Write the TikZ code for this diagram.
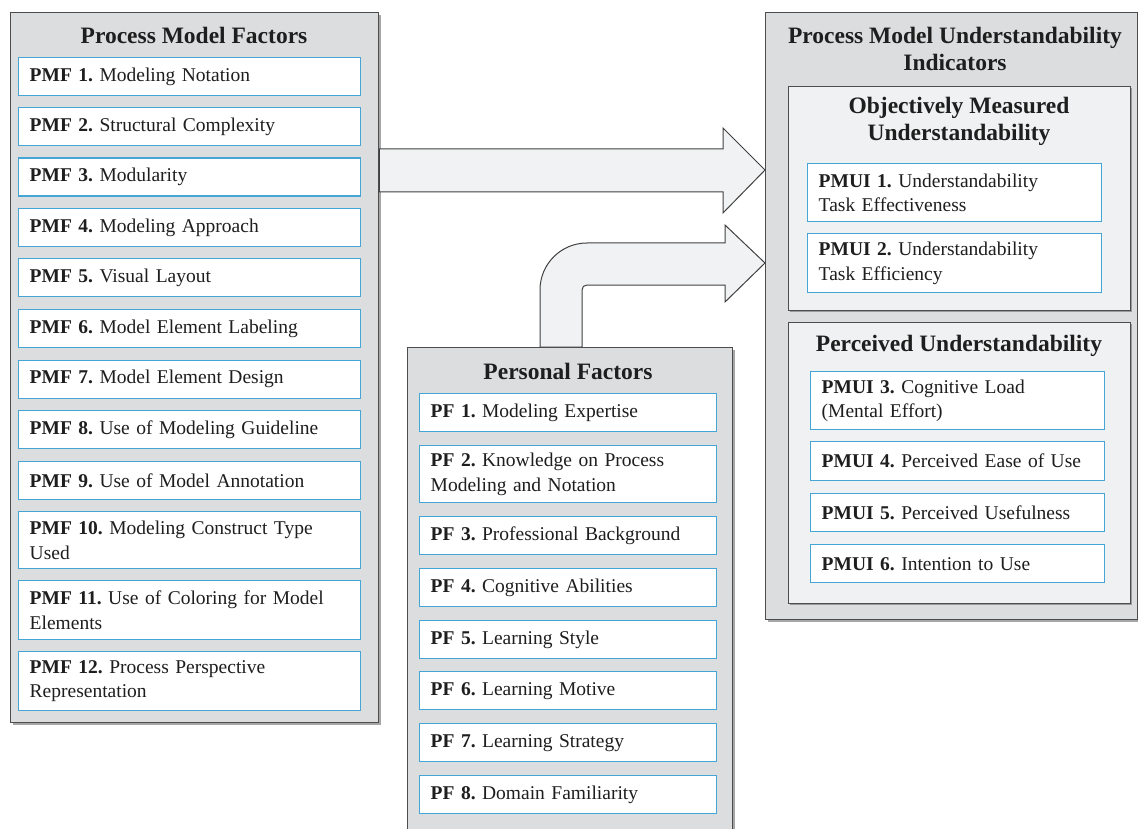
\documentclass[tikz,border=0pt]{standalone}
\usepackage{fontspec}
\setmainfont{Liberation Serif}
\usetikzlibrary{shadows}
\definecolor{outerfill}{HTML}{DCDDDF}
\definecolor{innerfill}{HTML}{F0F1F2}
\definecolor{itemblue}{HTML}{45A6D6}
\definecolor{edgegray}{HTML}{4D4D4D}
\definecolor{txt}{HTML}{1E1E1E}
\definecolor{arrowfill}{HTML}{F1F2F3}
\frenchspacing
\begin{document}
\begin{tikzpicture}[x=1pt,y=-1pt,
  outerbox/.style={draw=edgegray, line width=1.3pt, fill=outerfill, anchor=north west, inner sep=0pt,
    drop shadow={shadow xshift=2pt,shadow yshift=-2pt,fill=black,opacity=0.35}},
  innerbox/.style={draw=edgegray, line width=1.2pt, fill=innerfill, anchor=north west, inner sep=0pt,
    drop shadow={shadow xshift=1.5pt,shadow yshift=-1.5pt,fill=black,opacity=0.3}},
  titletext/.style={font=\fontsize{23.5}{27}\selectfont\bfseries, text=txt, align=center, inner sep=0pt},
  item/.style={draw=itemblue, line width=1.4pt, fill=white, anchor=north west, inner xsep=11pt, inner ysep=0pt,
    align=left, text=txt, font=\fontsize{19.5}{24.5}\selectfont},
  pmfitem/.style={item, text width=320pt},
  pfitem/.style={item, text width=275pt},
  uiitem/.style={item, text width=272pt},
  blockarrow/.style={draw=black!75, fill=arrowfill, line width=1pt, line join=miter}
]
\path[use as bounding box] (0,0) rectangle (1138,829);
\clip (0,0) rectangle (1138,829);

% ---------- Process Model Factors ----------
\node[outerbox, minimum width=368pt, minimum height=710pt] (pmfbox) at (10,12) {};
\node[titletext] (pmftitle) at (194,35) {Process Model Factors};
\node[pmfitem, minimum height=38pt] (pmf1) at (18,57) {\textbf{PMF 1.} Modeling Notation};
\node[pmfitem, minimum height=38pt] (pmf2) at (18,107) {\textbf{PMF 2.} Structural Complexity};
\node[pmfitem, minimum height=38pt] (pmf3) at (18,157.5) {\textbf{PMF 3.} Modularity};
\node[pmfitem, minimum height=38pt] (pmf4) at (18,208) {\textbf{PMF 4.} Modeling Approach};
\node[pmfitem, minimum height=38pt] (pmf5) at (18,258) {\textbf{PMF 5.} Visual Layout};
\node[pmfitem, minimum height=38pt] (pmf6) at (18,309) {\textbf{PMF 6.} Model Element Labeling};
\node[pmfitem, minimum height=38pt] (pmf7) at (18,359.5) {\textbf{PMF 7.} Model Element Design};
\node[pmfitem, minimum height=38pt] (pmf8) at (18,410) {\textbf{PMF 8.} Use of Modeling Guideline};
\node[pmfitem, minimum height=38pt] (pmf9) at (18,461) {\textbf{PMF 9.} Use of Model Annotation};
\node[pmfitem, minimum height=57pt] (pmf10) at (18,511) {\textbf{PMF 10.} Modeling Construct Type\\Used};
\node[pmfitem, minimum height=59pt] (pmf11) at (18,580) {\textbf{PMF 11.} Use of Coloring for Model\\Elements};
\node[pmfitem, minimum height=59pt] (pmf12) at (18,651) {\textbf{PMF 12.} Process Perspective\\Representation};

% ---------- Personal Factors ----------
\node[outerbox, minimum width=325pt, minimum height=500pt] (pfbox) at (407,347) {};
\node[titletext] (pftitle) at (568,371) {Personal Factors};
\node[pfitem, minimum height=38pt] (pf1) at (419,393) {\textbf{PF 1.} Modeling Expertise};
\node[pfitem, minimum height=57pt] (pf2) at (419,445) {\textbf{PF 2.} Knowledge on Process\\Modeling and Notation};
\node[pfitem, minimum height=38pt] (pf3) at (419,516) {\textbf{PF 3.} Professional Background};
\node[pfitem, minimum height=38pt] (pf4) at (419,568) {\textbf{PF 4.} Cognitive Abilities};
\node[pfitem, minimum height=38pt] (pf5) at (419,620) {\textbf{PF 5.} Learning Style};
\node[pfitem, minimum height=38pt] (pf6) at (419,671) {\textbf{PF 6.} Learning Motive};
\node[pfitem, minimum height=38pt] (pf7) at (419,723) {\textbf{PF 7.} Learning Strategy};
\node[pfitem, minimum height=38pt] (pf8) at (419,775) {\textbf{PF 8.} Domain Familiarity};

% ---------- Understandability Indicators ----------
\node[outerbox, minimum width=372pt, minimum height=607pt] (pmuibox) at (765,12) {};
\node[titletext] (pmuititle) at (955,48.5) {Process Model Understandability\\Indicators};
\node[innerbox, minimum width=342pt, minimum height=224pt] (objbox) at (788,86) {};
\node[titletext] (objtitle) at (959,121.5) {Objectively Measured\\Understandability};
\node[uiitem, minimum height=58pt] (ui1) at (807,163) {\textbf{PMUI 1.} Understandability\\Task Effectiveness};
\node[uiitem, minimum height=59pt] (ui2) at (807,233) {\textbf{PMUI 2.} Understandability\\Task Efficiency};
\node[innerbox, minimum width=342pt, minimum height=281pt] (perbox) at (788,322) {};
\node[titletext] (pertitle) at (959,346) {Perceived Understandability};
\node[uiitem, minimum height=58pt] (ui3) at (810,371) {\textbf{PMUI 3.} Cognitive Load\\(Mental Effort)};
\node[uiitem, minimum height=39pt] (ui4) at (810,441) {\textbf{PMUI 4.} Perceived Ease of Use};
\node[uiitem, minimum height=38pt] (ui5) at (810,493) {\textbf{PMUI 5.} Perceived Usefulness};
\node[uiitem, minimum height=38pt] (ui6) at (810,544) {\textbf{PMUI 6.} Intention to Use};

% ---------- Block arrows ----------
\draw[blockarrow] (pmfbox.east |- 0,149) -- (723,149) -- (723,128) -- (pmuibox.west |- 0,170)
  -- (723,213) -- (723,192) -- (pmfbox.east |- 0,192) -- cycle;
\draw[blockarrow] (pfbox.north -| 540,0) -- (540,290) .. controls (540,264) and (561,243) .. (587,243)
  -- (725,243) -- (725,225) -- (pmuibox.west |- 0,263) -- (725,302) -- (725,285) -- (587,285)
  .. controls (584,285) and (582,287) .. (582,290) -- (pfbox.north -| 582,0) -- cycle;
\end{tikzpicture}
\end{document}
